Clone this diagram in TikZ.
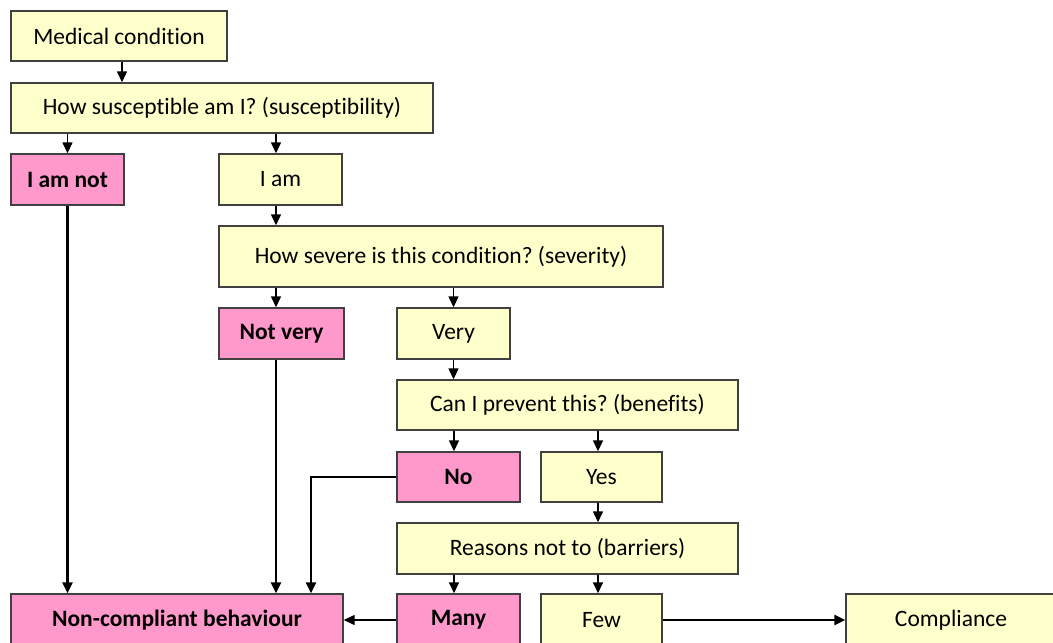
\documentclass[tikz,border=0pt]{standalone}
\usepackage{fontspec}
\setmainfont[Ligatures=NoCommon]{Carlito}
\usetikzlibrary{arrows.meta}

\definecolor{boxyellow}{HTML}{FFFFCC}
\definecolor{boxpink}{HTML}{FF99CC}
\definecolor{boxline}{HTML}{404040}

\begin{document}
\frenchspacing
\begin{tikzpicture}[x=1pt,y=-1pt,
    box/.style={draw=boxline,line width=1.4pt,fill=boxyellow,inner sep=0pt,
        font=\fontsize{23.5}{27}\selectfont},
    stopbox/.style={box,fill=boxpink,font=\fontsize{23.5}{27}\selectfont\bfseries},
    arr/.style={-{Triangle[length=11pt,width=10pt]},line width=1.4pt},
    thickarr/.style={arr,line width=2.8pt}]

    % page frame (same size as the reference)
    \useasboundingbox (0,0) rectangle (1053,643);

    % questions and answers
    \node[box,minimum width=216pt,minimum height=50pt] (med) at (119,36) {Medical condition};
    \node[box,minimum width=422pt,minimum height=50pt] (sus) at (222,108) {How susceptible am I? (susceptibility)};
    \node[stopbox,minimum width=113pt,minimum height=51pt] (notsus) at (67.5,179.5) {I am not};
    \node[box,minimum width=123pt,minimum height=51pt] (iam) at (280.5,179.5) {I am};
    \node[box,minimum width=444pt,minimum height=61pt] (sev) at (441,256.5) {How severe is this condition? (severity)};
    \node[stopbox,minimum width=125pt,minimum height=51pt] (notsev) at (281.5,333.5) {Not very};
    \node[box,minimum width=113pt,minimum height=51pt] (very) at (453.5,333.5) {Very};
    \node[box,minimum width=341pt,minimum height=50pt] (ben) at (567.5,405) {Can I prevent this? (benefits)};
    \node[stopbox,minimum width=123pt,minimum height=50pt] (noben) at (458.5,477) {No};
    \node[box,minimum width=121pt,minimum height=50pt] (yesben) at (601.5,477) {Yes};
    \node[box,minimum width=341pt,minimum height=51pt] (bar) at (567.5,548.5) {Reasons not to (barriers)};

    % outcomes
    \node[stopbox,minimum width=332pt,minimum height=52pt] (nonc) at (177,620) {Non-compliant behaviour};
    \node[stopbox,minimum width=123pt,minimum height=52pt] (many) at (458.5,620) {Many};
    \node[box,minimum width=121pt,minimum height=52pt] (few) at (601.5,620) {Few};
    \node[box,minimum width=210pt,minimum height=52pt] (comp) at (951,620) {Compliance};

    % the arrows sit a little left of the box centres
    \coordinate (medout) at ([xshift=3pt]med.south);
    \coordinate (iamin) at ([xshift=-4.5pt]iam.north);
    \coordinate (notsevin) at ([xshift=-5.5pt]notsev.north);
    \coordinate (noin) at ([xshift=-4.5pt]noben.north);
    \coordinate (yesin) at ([xshift=-3.5pt]yesben.north);
    \coordinate (manyin) at ([xshift=-4.5pt]many.north);
    \coordinate (fewin) at ([xshift=-3.5pt]few.north);

    % short arrows
    \draw[arr] (medout) -- (medout |- sus.north);
    \draw[arr] (sus.south -| notsus) -- (notsus.north);
    \draw[arr] (sus.south -| iamin) -- (iamin);
    \draw[arr] (iamin |- iam.south) -- (iamin |- sev.north);
    \draw[arr] (sev.south -| notsevin) -- (notsevin);
    \draw[arr] (sev.south -| very) -- (very.north);
    \draw[arr] (very.south) -- (very.south |- ben.north);
    \draw[arr] (ben.south -| noin) -- (noin);
    \draw[arr] (ben.south -| yesin) -- (yesin);
    \draw[arr] (yesin |- yesben.south) -- (yesin |- bar.north);
    \draw[arr] (bar.south -| manyin) -- (manyin);
    \draw[arr] (bar.south -| fewin) -- (fewin);

    % long lines to the outcomes
    \coordinate (nobend) at (311,477);
    \draw[thickarr] (notsus.south) -- (notsus.south |- nonc.north);
    \draw[thickarr] (notsevin |- notsev.south) -- (notsevin |- nonc.north);
    \draw[thickarr] (noben.west) -- (nobend) -- (nobend |- nonc.north);
    \draw[arr] (many.west) -- (nonc.east);
    \draw[thickarr] (few.east) -- (comp.west);

\end{tikzpicture}
\end{document}
